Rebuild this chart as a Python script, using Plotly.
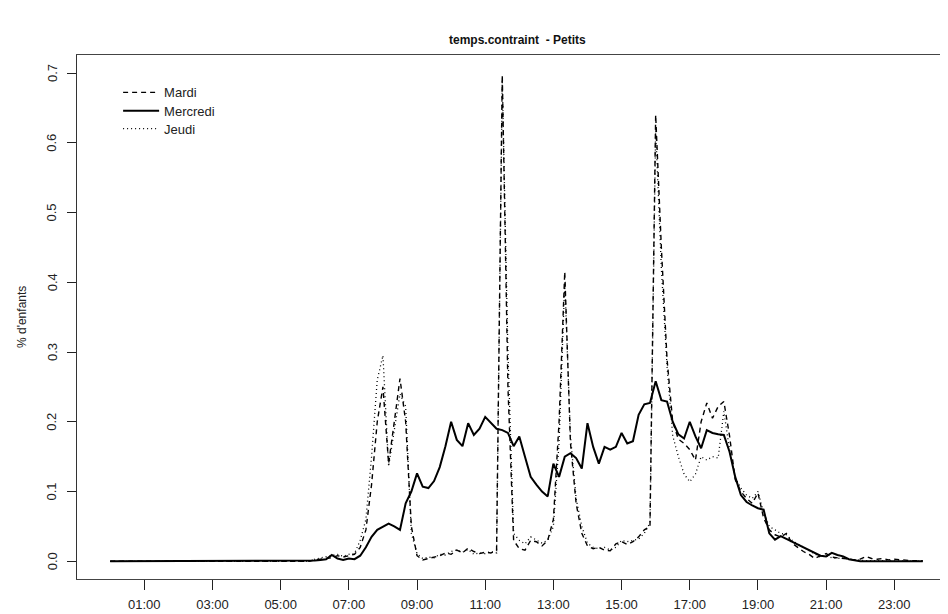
import numpy as np
import plotly.graph_objects as go

# time grid: one value every 10 minutes, 00:00 .. 23:50
hours = np.arange(144) / 6.0

mardi = [
    0, 0, 0, 0, 0, 0,  # 0h
    0, 0, 0, 0, 0, 0,  # 1h
    0, 0, 0, 0, 0, 0,  # 2h
    0, 0, 0, 0, 0, 0,  # 3h
    0, 0, 0, 0, 0, 0,  # 4h
    0, 0, 0, 0, 0, 0,  # 5h
    0.002, 0.003, 0.004, 0.005, 0.008, 0.006,
    0.008, 0.010, 0.020, 0.045, 0.110, 0.200,
    0.250, 0.140, 0.200, 0.262, 0.200, 0.050,
    0.008, 0.002, 0.004, 0.006, 0.008, 0.012,
    0.010, 0.016, 0.012, 0.019, 0.014, 0.011,
    0.013, 0.012, 0.015, 0.697, 0.250, 0.030,
    0.018, 0.016, 0.030, 0.028, 0.022, 0.030,
    0.060, 0.200, 0.415, 0.170, 0.083, 0.040,
    0.022, 0.018, 0.020, 0.016, 0.015, 0.025,
    0.028, 0.024, 0.028, 0.035, 0.045, 0.050,
    0.640, 0.450, 0.290, 0.200, 0.175, 0.169,
    0.160, 0.145, 0.200, 0.227, 0.205, 0.222,
    0.229, 0.180, 0.117, 0.100, 0.090, 0.083,
    0.098, 0.062, 0.045, 0.038, 0.035, 0.040,
    0.026, 0.020, 0.014, 0.010, 0.004, 0.008,
    0.011, 0.006, 0.005, 0.004, 0.003, 0.002,
    0.003, 0.007, 0.004, 0.003, 0.004, 0.002,
    0.003, 0.002, 0.002, 0.001, 0.001, 0.001,
]

mercredi = [
    0, 0, 0, 0, 0, 0,
    0, 0, 0, 0, 0, 0,
    0, 0, 0, 0, 0, 0,
    0, 0, 0, 0, 0, 0,
    0, 0, 0, 0, 0, 0,
    0, 0, 0, 0, 0, 0,
    0.001, 0.002, 0.003, 0.009, 0.004, 0.002,
    0.004, 0.003, 0.008, 0.020, 0.035, 0.045,
    0.050, 0.054, 0.050, 0.045, 0.083, 0.100,
    0.126, 0.107, 0.105, 0.115, 0.135, 0.165,
    0.200, 0.174, 0.165, 0.198, 0.181, 0.190,
    0.207, 0.198, 0.190, 0.188, 0.184, 0.165,
    0.179, 0.150, 0.121, 0.110, 0.100, 0.093,
    0.140, 0.121, 0.150, 0.155, 0.148, 0.133,
    0.198, 0.164, 0.140, 0.164, 0.160, 0.164,
    0.184, 0.169, 0.172, 0.210, 0.225, 0.227,
    0.258, 0.231, 0.229, 0.200, 0.182, 0.176,
    0.200, 0.179, 0.162, 0.188, 0.184, 0.182,
    0.181, 0.157, 0.121, 0.095, 0.085, 0.080,
    0.076, 0.074, 0.040, 0.031, 0.036, 0.032,
    0.028, 0.024, 0.019, 0.015, 0.011, 0.008,
    0.007, 0.012, 0.009, 0.007, 0.003, 0.001,
    0, 0, 0, 0, 0, 0,
    0, 0, 0, 0, 0, 0,
]

jeudi = [
    0, 0, 0, 0, 0, 0,
    0, 0, 0, 0, 0, 0,
    0, 0, 0, 0, 0, 0,
    0, 0, 0, 0, 0, 0,
    0, 0, 0, 0, 0, 0,
    0, 0, 0, 0, 0, 0,
    0.003, 0.005, 0.006, 0.008, 0.010, 0.007,
    0.010, 0.011, 0.030, 0.060, 0.150, 0.260,
    0.295, 0.136, 0.188, 0.240, 0.222, 0.040,
    0.011, 0.004, 0.006, 0.005, 0.010, 0.009,
    0.014, 0.016, 0.013, 0.017, 0.010, 0.012,
    0.011, 0.014, 0.012, 0.690, 0.300, 0.040,
    0.030, 0.025, 0.035, 0.030, 0.026, 0.030,
    0.050, 0.170, 0.400, 0.180, 0.090, 0.050,
    0.026, 0.020, 0.018, 0.020, 0.016, 0.020,
    0.030, 0.028, 0.030, 0.032, 0.040, 0.055,
    0.620, 0.420, 0.280, 0.180, 0.150, 0.125,
    0.114, 0.125, 0.150, 0.145, 0.150, 0.148,
    0.215, 0.160, 0.120, 0.105, 0.095, 0.090,
    0.100, 0.070, 0.050, 0.045, 0.040, 0.038,
    0.030, 0.025, 0.020, 0.015, 0.010, 0.006,
    0.008, 0.005, 0.004, 0.005, 0.003, 0.002,
    0.002, 0.001, 0.001, 0.001, 0.000, 0.001,
    0, 0, 0, 0, 0, 0,
]

x_tick_labels = ["01:00", "03:00", "05:00", "07:00", "09:00", "11:00",
                 "13:00", "15:00", "17:00", "19:00", "21:00", "23:00"]
y_tick_values = [0.0, 0.1, 0.2, 0.3, 0.4, 0.5, 0.6, 0.7]
y_tick_labels = ["0.0", "0.1", "0.2", "0.3", "0.4", "0.5", "0.6", "0.7"]

x_tick_values = [int(s.split(":")[0]) for s in x_tick_labels]

FONT = "Liberation Sans, Arial, Helvetica, sans-serif"
PLOT_H = 523.7
PLOT_W = 871.3


def leg_y(screen_y):
    # vertical position (paper units) of a legend entry centred at a screen row
    return (579 - screen_y) / PLOT_H


fig = go.Figure()
fig.add_trace(go.Scatter(x=hours, y=mardi, mode="lines", name="Mardi", legend="legend",
                         line=dict(color="black", width=1.4, dash="5px,4px")))
fig.add_trace(go.Scatter(x=hours, y=mercredi, mode="lines", name="Mercredi", legend="legend2",
                         line=dict(color="black", width=2)))
fig.add_trace(go.Scatter(x=hours, y=jeudi, mode="lines", name="Jeudi", legend="legend3",
                         line=dict(color="black", width=1.3, dash="1px,3px")))

leg_common = dict(x=0.0472, xanchor="left", yanchor="middle", bgcolor="rgba(0,0,0,0)",
                  font=dict(size=13, color="#222"), itemwidth=36)

# vertical (R-style) y tick labels, placed at the axis' own tick values
y_label_annotations = [
    dict(text=lab, xref="paper", yref="y", x=(52 - 77) / PLOT_W, y=val,
         textangle=-90, xanchor="center", yanchor="middle", showarrow=False,
         font=dict(size=13, color="#222"))
    for val, lab in zip(y_tick_values, y_tick_labels)
]

fig.update_layout(
    width=940, height=606,
    margin=dict(l=68.7, r=0, t=47.3, b=35),
    paper_bgcolor="white", plot_bgcolor="white",
    font=dict(family=FONT, size=12, color="#222"),
    showlegend=True,
    legend=dict(y=leg_y(92.7), **leg_common),
    legend2=dict(y=leg_y(111), **leg_common),
    legend3=dict(y=leg_y(129), **leg_common),
    xaxis=dict(range=[-0.974, 24.575], tickvals=x_tick_values, ticktext=x_tick_labels,
               ticks="outside", ticklen=10, tickcolor="#222", tickwidth=1,
               ticklabelstandoff=3,
               showline=True, linecolor="#444", linewidth=1, mirror=True,
               showgrid=False, zeroline=False, tickfont=dict(size=13, color="#222")),
    yaxis=dict(range=[-0.0254, 0.7258], tickvals=y_tick_values, showticklabels=False,
               ticks="outside", ticklen=9, tickcolor="#222", tickwidth=1,
               showline=True, linecolor="#333", linewidth=1, mirror=False,
               showgrid=False, zeroline=False),
    annotations=[
        dict(text="<b>temps.contraint  - Petits</b>", xref="paper", yref="paper",
             x=(518 - 77) / PLOT_W, y=1 + (55.3 - 40) / PLOT_H, xanchor="center", yanchor="middle",
             showarrow=False, font=dict(size=12, color="#111")),
        dict(text="% d'enfants", xref="paper", yref="paper",
             x=(22 - 77) / PLOT_W, y=0.5, textangle=-90, xanchor="center", yanchor="middle",
             showarrow=False, font=dict(size=12, color="#222")),
    ] + y_label_annotations,
)

fig.write_html("out.html")
